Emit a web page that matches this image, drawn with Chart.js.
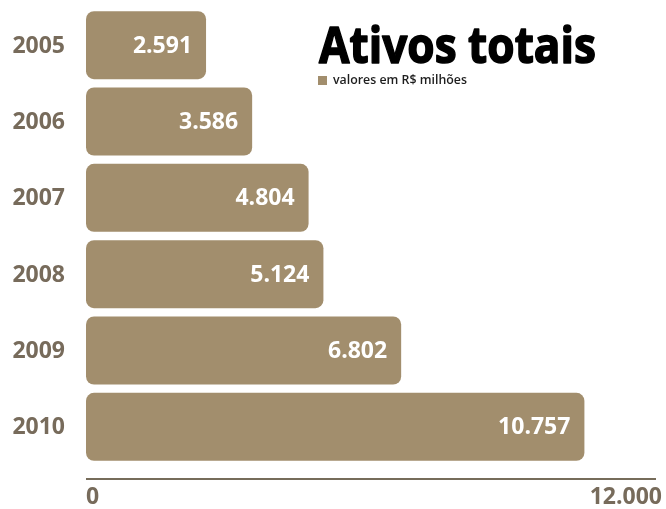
<!DOCTYPE html>
<html>
<head>
<meta charset="utf-8">
<script src="https://cdn.jsdelivr.net/npm/chart.js@4"></script>
<style>
  html, body { margin: 0; padding: 0; background: #fff; }
  canvas { display: block; }
</style>
</head>
<body>
<canvas id="chart" width="666" height="509"></canvas>
<script>
const years = ['2005', '2006', '2007', '2008', '2009', '2010'];
const totalAssets = [2591, 3586, 4804, 5124, 6802, 10757];
const axisTicks = [0, 12000];

const barColor = '#a28e6d';
const labelColor = '#776b5b';

// 12345 -> "12.345"
const fmt = v => String(v).replace(/\B(?=(\d{3})+(?!\d))/g, '.');

// title + "valores em R$ milhões" key
const titlePlugin = {
  id: 'titleBlock',
  afterDraw(chart) {
    const ctx = chart.ctx;
    ctx.save();
    ctx.fillStyle = '#000';
    ctx.strokeStyle = '#000';
    ctx.lineWidth = 1.6;
    ctx.lineJoin = 'round';
    ctx.font = 'bold 51px "Open Sans"';
    ctx.textBaseline = 'alphabetic';
    ctx.textAlign = 'left';
    const title = 'Ativos totais';
    const w = ctx.measureText(title).width;
    ctx.translate(319, 63);
    ctx.scale(277 / w, 1);
    ctx.fillText(title, 0, 0);
    ctx.strokeText(title, 0, 0);
    ctx.restore();

    ctx.save();
    ctx.fillStyle = barColor;
    ctx.fillRect(318, 76, 9, 9);
    ctx.fillStyle = '#1e1e1e';
    ctx.font = '600 12px "Open Sans"';
    ctx.textBaseline = 'middle';
    const sub = 'valores em R$ milhões';
    const sw = ctx.measureText(sub).width;
    ctx.translate(333, 81);
    ctx.scale(134 / sw, 1);
    ctx.fillText(sub, 0, 0);
    ctx.restore();
  }
};

// year names on the left and white values inside the end of each bar
const labelPlugin = {
  id: 'barLabels',
  afterDatasetsDraw(chart) {
    const ctx = chart.ctx;
    const meta = chart.getDatasetMeta(0);
    const left = chart.chartArea.left;
    ctx.save();
    ctx.font = 'bold 23px "Open Sans"';
    ctx.textAlign = 'right';
    ctx.textBaseline = 'middle';
    meta.data.forEach((bar, i) => {
      ctx.fillStyle = labelColor;
      ctx.fillText(years[i], left - 21, bar.y + 1);
      ctx.fillStyle = '#fff';
      ctx.fillText(fmt(totalAssets[i]), bar.x - 14, bar.y + 1);
    });
    ctx.restore();
  }
};

// bottom rule with the 0 and 12.000 marks, a little below the bars
const axisPlugin = {
  id: 'bottomAxis',
  afterDraw(chart) {
    const ctx = chart.ctx;
    const x = chart.scales.x;
    const y = chart.chartArea.bottom + 14;
    const x0 = x.getPixelForValue(axisTicks[0]);
    const x1 = x.getPixelForValue(axisTicks[1]);
    ctx.save();
    ctx.strokeStyle = '#766c5a';
    ctx.lineWidth = 2;
    ctx.beginPath();
    ctx.moveTo(x0, y);
    ctx.lineTo(x1 + 14, y);
    ctx.stroke();
    ctx.fillStyle = labelColor;
    ctx.font = 'bold 23px "Open Sans"';
    ctx.textBaseline = 'middle';
    ctx.textAlign = 'left';
    ctx.fillText(fmt(axisTicks[0]), x0, y + 18);
    ctx.textAlign = 'right';
    ctx.fillText(fmt(axisTicks[1]), x1 + 20, y + 18);
    ctx.restore();
  }
};

new Chart(document.getElementById('chart'), {
  type: 'bar',
  data: {
    labels: years,
    datasets: [{
      data: totalAssets,
      backgroundColor: barColor,
      borderRadius: 8,
      borderSkipped: false,
      categoryPercentage: 1,
      barPercentage: 0.89
    }]
  },
  options: {
    indexAxis: 'y',
    responsive: false,
    animation: false,
    layout: { padding: { top: 7, right: 24, bottom: 44, left: 86 } },
    plugins: {
      legend: { display: false },
      tooltip: { enabled: false }
    },
    scales: {
      x: { display: false, min: 0, max: 12000 },
      y: { display: false }
    }
  },
  plugins: [titlePlugin, labelPlugin, axisPlugin]
});
</script>
</body>
</html>
